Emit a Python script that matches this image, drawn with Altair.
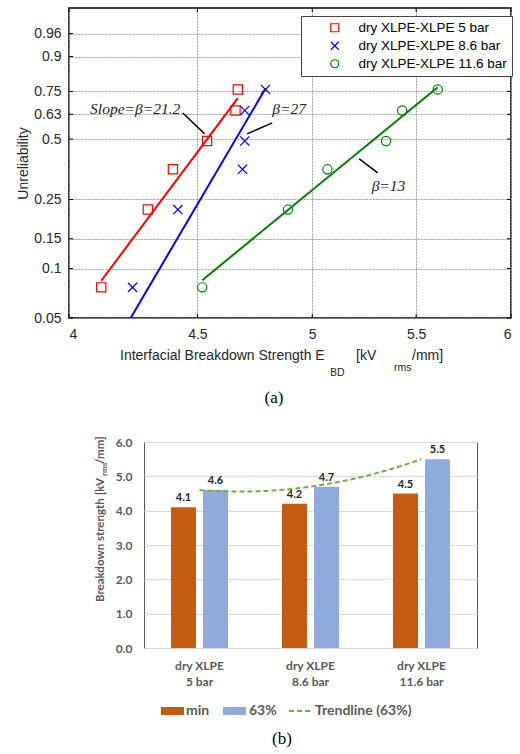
import math
import altair as alt
import pandas as pd

# ---------------- (a) Weibull plot of interfacial breakdown strength ----------------
series = ["dry XLPE-XLPE 5 bar", "dry XLPE-XLPE 8.6 bar", "dry XLPE-XLPE 11.6 bar"]
series_colors = ["#ff0000", "#0000ff", "#008000"]
cross_path = "M-1,-1L1,1M1,-1L-1,1"
series_shapes = ["square", cross_path, "circle"]

# breakdown strength per test [kV_rms/mm] and its plotting position (unreliability)
strength_5bar = [4.12, 4.30, 4.40, 4.54, 4.66, 4.67]
strength_8_6bar = [4.24, 4.42, 4.69, 4.70, 4.70, 4.79]
strength_11_6bar = [4.52, 4.89, 5.07, 5.35, 5.43, 5.61]
unreliability = [0.077, 0.22, 0.36, 0.49, 0.65, 0.76]

# two-parameter Weibull fits: shape (beta), scale (eta) and fitted range
shape_beta = [21.2, 27, 13]
scale_eta = [4.62, 4.725, 5.445]
fit_from = [4.12, 4.23, 4.52]
fit_to = [4.67, 4.79, 5.61]

strength_ticks = [4, 4.5, 5, 5.5, 6]
unrel_ticks = [0.05, 0.1, 0.15, 0.25, 0.5, 0.63, 0.75, 0.9, 0.96]
unrel_range = [0.05, 0.9906]

# slope annotations with their leader lines
slope_text = ["Slope=β=21.2", "β=27", "β=13"]
slope_E = [4.43, 4.82, 5.28]
slope_F = [0.66, 0.66, 0.296]
lead_E1 = [4.44, 4.71, 5.22]
lead_F1 = [0.637, 0.5265, 0.405]
lead_E2 = [4.53, 4.82, 5.31]
lead_F2 = [0.5265, 0.584, 0.3457]

# ---------------- (b) bar chart of min / 63 % breakdown strength ----------------
categories = ["dry XLPE 5 bar", "dry XLPE 8.6 bar", "dry XLPE 11.6 bar"]
min_strength = [4.1, 4.2, 4.5]
p63_strength = [4.6, 4.7, 5.5]
measures = ["min", "63%"]
measure_colors = ["#C55A11", "#8FAADC"]
trend_label = "Trendline (63%)"
trend_color = "#70AD47"
strength_axis_ticks = [0, 1, 2, 3, 4, 5, 6]


def weibull_y(f):
    return math.log(-math.log(1.0 - f))


SANS = "Liberation Sans"
SERIF = "Liberation Serif"
BAR_FONT = "Lato"
one = pd.DataFrame({"k": [0]})


def label(text, x, y, size, font=SANS, color="#262626", align="left", **kw):
    return alt.Chart(one).mark_text(
        font=font, fontSize=size, color=color, align=align, baseline="middle", **kw
    ).encode(x=alt.value(x), y=alt.value(y), text=alt.value(text))


# ---- panel (a) ----
W_A, H_A = 442, 310
pts_df = pd.DataFrame(
    [
        {"series": s, "E": e, "F": f}
        for s, es in zip(series, [strength_5bar, strength_8_6bar, strength_11_6bar])
        for e, f in zip(es, unreliability)
    ]
)
fit_df = pd.DataFrame(
    [
        {"series": s, "col": c, "beta": b, "eta": eta, "E": e}
        for s, c, b, eta, e0, e1 in zip(series, series_colors, shape_beta, scale_eta, fit_from, fit_to)
        for e in (e0, e1)
    ]
)
ann_df = pd.DataFrame({"label": slope_text, "E": slope_E, "F": slope_F})
lead_df = pd.DataFrame({"E1": lead_E1, "F1": lead_F1, "E2": lead_E2, "F2": lead_F2})
xtick_df = pd.DataFrame({"E": strength_ticks})
ytick_df = pd.DataFrame({"F": unrel_ticks})

x_scale = alt.Scale(type="log", domain=[4, 6], nice=False)
y_scale = alt.Scale(domain=[weibull_y(f) for f in unrel_range], nice=False, zero=False)
wy = "log(-log(1 - datum.{}))"

x_axis = alt.Axis(
    values=strength_ticks, tickCount=len(strength_ticks), format="~g", title=None,
    labelFont=SANS, labelFontSize=14, labelColor="#262626", labelPadding=9,
    labelOverlap=False, ticks=False, domain=False,
    grid=True, gridColor="#a0a0a0", gridDash=[2, 1], gridWidth=1,
)
y_axis = alt.Axis(
    values=[weibull_y(f) for f in unrel_ticks], tickCount=len(unrel_ticks),
    labelExpr="format(1 - exp(-exp(datum.value)), '.2~f')",
    title="Unreliability", titleFont=SANS, titleFontSize=14, titleFontWeight="normal",
    titleColor="#262626", titlePadding=3, labelFont=SANS, labelFontSize=14,
    labelColor="#262626", labelPadding=8, labelOverlap=False, ticks=False, domain=False,
    grid=True, gridColor="#a0a0a0", gridDash=[2, 1], gridWidth=1,
)
leg = alt.Legend(
    title=None, orient="none", legendX=232, legendY=8, fillColor="white",
    strokeColor="#444444", padding=5, labelFont=SANS, labelFontSize=13.5,
    labelColor="black", symbolOffset=22, labelOffset=17, rowPadding=3,
    symbolStrokeWidth=1.2, symbolSize=64,
)

fit = alt.Chart(fit_df).transform_calculate(
    v="datum.beta * (log(datum.E) - log(datum.eta))"
).mark_line(strokeWidth=2, clip=True).encode(
    x=alt.X("E:Q", scale=x_scale, axis=x_axis),
    y=alt.Y("v:Q", scale=y_scale, axis=y_axis),
    color=alt.Color("col:N", scale=None),
    detail="series:N",
)
points = alt.Chart(pts_df).transform_calculate(v=wy.format("F")).mark_point(
    filled=False, strokeWidth=1.2, size=85, opacity=1
).encode(
    x=alt.X("E:Q", scale=x_scale),
    y=alt.Y("v:Q", scale=y_scale),
    color=alt.Color("series:N", scale=alt.Scale(domain=series, range=series_colors), legend=leg),
    shape=alt.Shape("series:N", scale=alt.Scale(domain=series, range=series_shapes), legend=leg),
)
leaders = alt.Chart(lead_df).transform_calculate(
    v1=wy.format("F1"), v2=wy.format("F2")
).mark_rule(color="black", strokeWidth=1.5).encode(
    x=alt.X("E1:Q", scale=x_scale), x2="E2:Q",
    y=alt.Y("v1:Q", scale=y_scale), y2="v2:Q",
)
ann_base = alt.Chart(ann_df).transform_calculate(v=wy.format("F"))
ann_enc = dict(x=alt.X("E:Q", scale=x_scale), y=alt.Y("v:Q", scale=y_scale), text="label:N")
ann_right = ann_base.transform_filter(alt.datum.label == slope_text[0]).mark_text(
    font=SERIF, fontStyle="italic", fontSize=15.5, color="#222", align="right", baseline="middle"
).encode(**ann_enc)
ann_left = ann_base.transform_filter(alt.datum.label != slope_text[0]).mark_text(
    font=SERIF, fontStyle="italic", fontSize=15.5, color="#222", align="left", baseline="middle"
).encode(**ann_enc)

# short inward tick marks on all four sides of the frame
tick_len = 4
x_ticks = [
    alt.Chart(xtick_df).mark_rule(color="black", strokeWidth=1).encode(
        x=alt.X("E:Q", scale=x_scale), y=alt.value(y0), y2=alt.value(y0 + tick_len)
    )
    for y0 in (0, H_A - tick_len)
]
y_ticks = [
    alt.Chart(ytick_df).transform_calculate(v=wy.format("F")).mark_rule(color="black", strokeWidth=1).encode(
        y=alt.Y("v:Q", scale=y_scale), x=alt.value(x0), x2=alt.value(x0 + tick_len)
    )
    for x0 in (0, W_A - tick_len)
]

title_a = [
    label("Interfacial Breakdown Strength E", 51, 348, 14),
    label("BD", 261, 365, 10.5),
    label("[kV", 287, 348, 14),
    label("rms", 325, 360, 10.5),
    label("/mm]", 343, 348, 14),
    label("(a)", 205, 390, 17, font=SERIF, color="black", align="center"),
]

panel_a = alt.layer(
    fit, *x_ticks, *y_ticks, points, leaders, ann_right, ann_left, *title_a
).properties(
    width=W_A, height=H_A, view=alt.ViewBackground(stroke="black", strokeWidth=1.5)
)

# ---- panel (b) ----
bar_df = pd.DataFrame(
    [
        {"cat": c, "idx": i + 1, "measure": m, "value": v}
        for i, c in enumerate(categories)
        for m, v in zip(measures, (min_strength[i], p63_strength[i]))
    ]
)
band = alt.Scale(paddingInner=0, paddingOuter=0)
offset = alt.XOffset("measure:N", sort=measures, scale=alt.Scale(paddingInner=0.22, paddingOuter=0.84))
gray = "#595959"

bars = alt.Chart(bar_df).mark_bar().encode(
    x=alt.X("cat:N", sort=categories, scale=band, axis=alt.Axis(
        title=None, labelAngle=0, labelExpr="['dry XLPE', replace(datum.label, 'dry XLPE ', '')]",
        labelFont=BAR_FONT, labelFontWeight="bold", labelFontSize=12, labelColor=gray,
        labelPadding=12, labelLineHeight=16, ticks=False, domain=False,
    )),
    xOffset=offset,
    y=alt.Y("value:Q", scale=alt.Scale(domain=[0, 6], nice=False), axis=alt.Axis(
        values=strength_axis_ticks, tickCount=len(strength_axis_ticks), format=".1f",
        title=None, labelFont=BAR_FONT, labelFontWeight="bold", labelFontSize=12,
        labelColor=gray, labelPadding=12, labelOverlap=False, ticks=False, domain=False,
        gridColor="#D9D9D9",
    )),
    color=alt.Color("measure:N", scale=alt.Scale(domain=measures, range=measure_colors), legend=None),
)
values = alt.Chart(bar_df).mark_text(
    dy=-9, font=BAR_FONT, fontWeight="bold", fontSize=11, color="#262626"
).encode(
    x=alt.X("cat:N", sort=categories, scale=band, axis=None),
    xOffset=offset,
    y=alt.Y("value:Q"),
    text=alt.Text("value:Q", format=".1f"),
)
trend = alt.Chart(bar_df).transform_filter(alt.datum.measure == measures[1]).transform_regression(
    "idx", "value", method="poly", order=2, extent=[1, 3]
).mark_line(color=trend_color, strokeDash=[5, 3], strokeWidth=2).encode(
    x=alt.X("idx:Q", scale=alt.Scale(domain=[0.5, 3.5], nice=False, zero=False), axis=None),
    y=alt.Y("value:Q"),
)


def swatch(x0, x1, color):
    return alt.Chart(one).mark_rect(color=color).encode(
        x=alt.value(x0), x2=alt.value(x1), y=alt.value(265), y2=alt.value(273)
    )


legend_b = [
    swatch(17, 40, measure_colors[0]),
    label(measures[0], 42, 269, 14, font=BAR_FONT, color=gray, fontWeight="bold"),
    swatch(79, 102, measure_colors[1]),
    label(measures[1], 105, 269, 14, font=BAR_FONT, color=gray, fontWeight="bold"),
    alt.Chart(one).mark_rule(color=trend_color, strokeDash=[5, 3], strokeWidth=2).encode(
        x=alt.value(145), x2=alt.value(167), y=alt.value(269)
    ),
    label(trend_label, 171, 269, 14, font=BAR_FONT, color=gray, fontWeight="bold"),
    label("(b)", 138, 297, 17, font=SERIF, color="black", align="center"),
]
title_b = [
    label("Breakdown strength [kV", -43, 36, 11.5, font=BAR_FONT, color=gray, fontWeight="bold",
          angle=270, align="right"),
    label("rms", -39, 34, 8, font=BAR_FONT, color=gray, fontWeight="bold", angle=270),
    label("/mm]", -43, 22, 11.5, font=BAR_FONT, color=gray, fontWeight="bold", angle=270),
]

panel_b = alt.layer(bars, values, trend, *legend_b, *title_b).resolve_scale(x="independent").properties(
    width=333, height=206, view=alt.ViewBackground(stroke=gray, strokeWidth=1)
)

spacer = alt.Chart(one).mark_rule(opacity=0).encode(
    x=alt.value(0), x2=alt.value(1), y=alt.value(0), y2=alt.value(1)
).properties(width=75, height=206, view=alt.ViewBackground(strokeOpacity=0))

chart = alt.vconcat(
    panel_a,
    alt.hconcat(spacer, panel_b, spacing=0, bounds="flush"),
    spacing=124,
    bounds="flush",
).resolve_scale(
    color="independent", shape="independent"
).properties(
    padding={"left": 16, "top": 6, "right": 0, "bottom": 0}, background="white"
).configure_view(strokeWidth=0)

chart.save("out.html", embed_options={"renderer": "svg", "actions": False})
